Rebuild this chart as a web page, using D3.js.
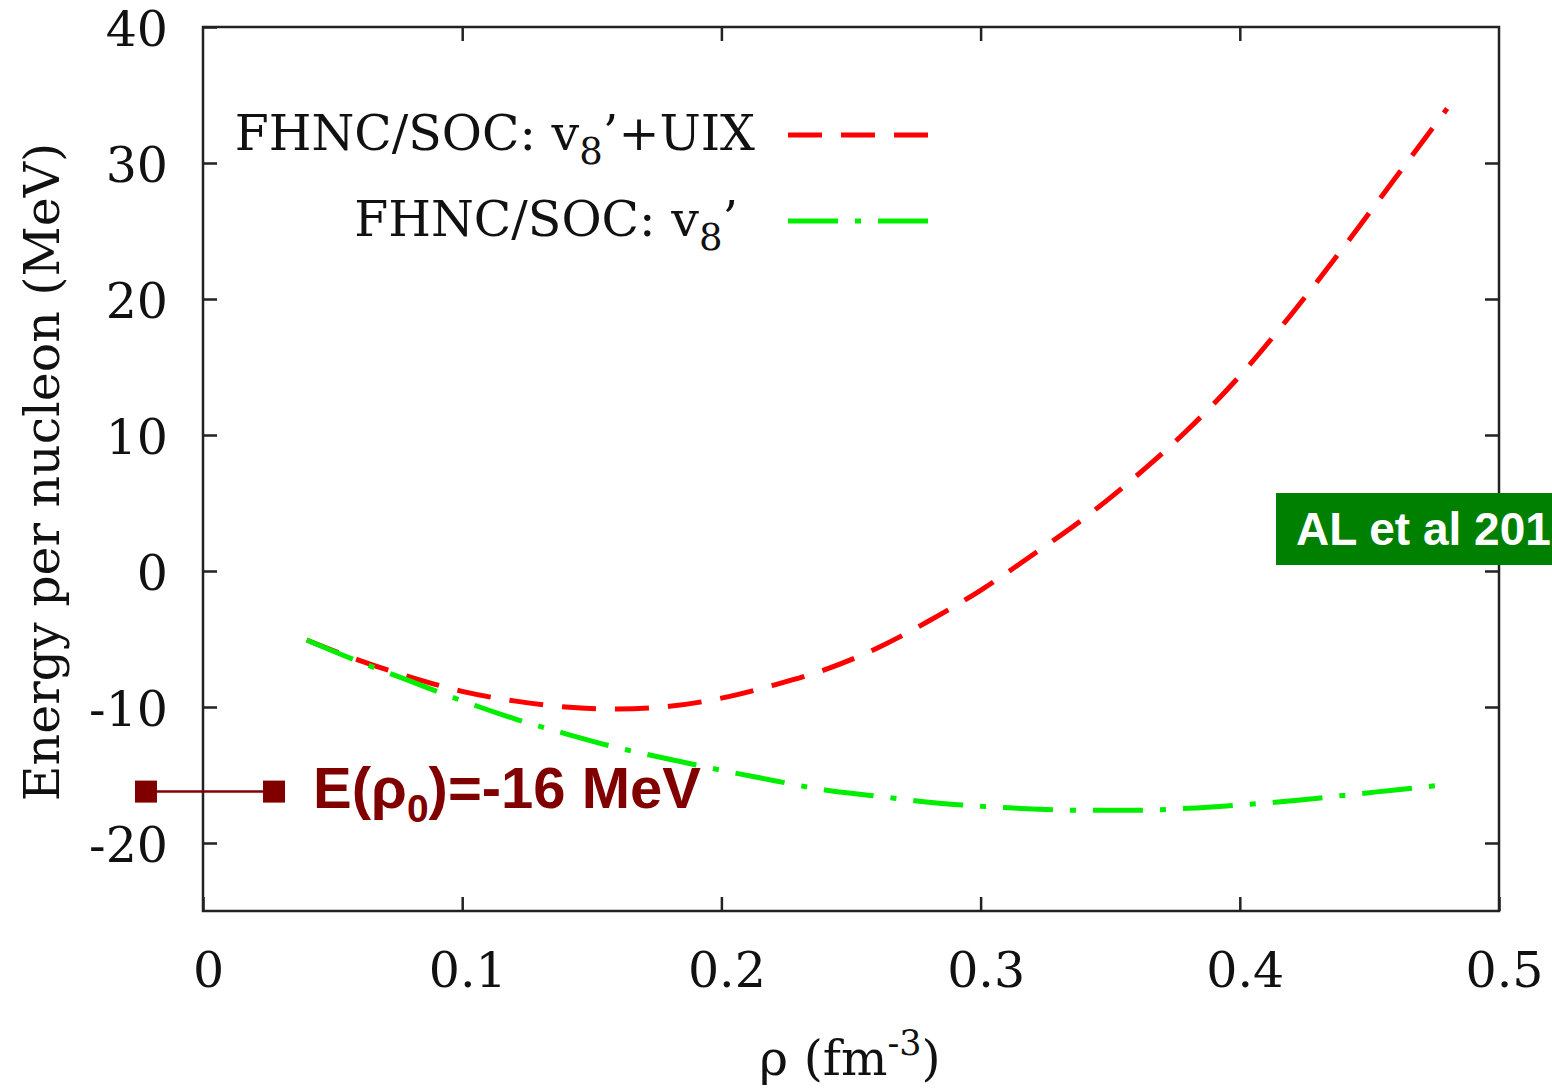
<!DOCTYPE html>
<html>
<head>
<meta charset="utf-8">
<script src="https://cdn.jsdelivr.net/npm/d3@7"></script>
<style>
  html, body { margin: 0; padding: 0; background: #fff; overflow: hidden; }
  svg { display: block; }
</style>
</head>
<body>
<svg id="chart" width="1552" height="1089"></svg>
<script>
// Density grid (fm^-3)
const rho = [0.04, 0.06, 0.08, 0.10, 0.12, 0.14, 0.16, 0.18, 0.20, 0.22, 0.24, 0.26,
             0.28, 0.30, 0.32, 0.34, 0.36, 0.38, 0.40, 0.42, 0.44, 0.46, 0.48];

// Energy per nucleon (MeV), FHNC/SOC with v8' + UIX three-body force
const energyV8UIX = [-5.07, -6.55, -7.8, -8.85, -9.55, -10.0, -10.15, -9.95, -9.35, -8.4,
                     -7.25, -5.68, -3.68, -1.42, 1.18, 3.89, 6.97, 10.4, 14.35, 18.9,
                     23.8, 28.9, 34.0];

// Energy per nucleon (MeV), FHNC/SOC with v8' only
const energyV8 = [-5.07, -6.65, -8.1, -9.55, -10.85, -11.97, -13.0, -13.84, -14.65, -15.4,
                  -16.1, -16.55, -17.0, -17.3, -17.5, -17.6, -17.6, -17.45, -17.2, -16.9,
                  -16.5, -16.1, -15.7];

const xTicks = [0, 0.1, 0.2, 0.3, 0.4, 0.5];
const xTickLabels = ["0", "0.1", "0.2", "0.3", "0.4", "0.5"];
const yTicks = [-20, -10, 0, 10, 20, 30, 40];
const yTickLabels = ["-20", "-10", "0", "10", "20", "30", "40"];

// Saturation energy marker
const saturationEnergy = -16;
const markerRho = [-0.022, 0.0274];

const svg = d3.select("#chart");
const serif = "'DejaVu Serif', serif";
const sans = "'Liberation Sans', Arial, sans-serif";
const fontSize = 49;

const x = d3.scaleLinear().domain([0, 0.5]).range([203, 1499]);
const y = d3.scaleLinear().domain([-25, 40]).range([911, 27]);

const tickLen = 14;

// Bottom axis with labels, ticks pointing inward
const gx = svg.append("g").attr("transform", `translate(0,${y(-25)})`)
  .call(d3.axisBottom(x).tickValues(xTicks)
    .tickFormat((d, i) => xTickLabels[i])
    .tickSizeInner(-tickLen).tickSizeOuter(0).tickPadding(41));
// Left axis with labels
const gy = svg.append("g").attr("transform", `translate(${x(0)},0)`)
  .call(d3.axisLeft(y).tickValues(yTicks)
    .tickFormat((d, i) => yTickLabels[i])
    .tickSizeInner(-tickLen).tickSizeOuter(0).tickPadding(35));
// Mirrored ticks on top and right
const gt = svg.append("g").attr("transform", `translate(0,${y(40)})`)
  .call(d3.axisTop(x).tickValues(xTicks.slice(1, -1)).tickFormat("")
    .tickSizeInner(-tickLen).tickSizeOuter(0));
const gr = svg.append("g").attr("transform", `translate(${x(0.5)},0)`)
  .call(d3.axisRight(y).tickValues(yTicks.slice(0, -1)).tickFormat("")
    .tickSizeInner(-tickLen).tickSizeOuter(0));

[gx, gy, gt, gr].forEach(g => {
  g.select(".domain").remove();
  g.selectAll(".tick line").attr("stroke", "#222").attr("stroke-width", 2.5);
  g.selectAll(".tick text").attr("fill", "#111")
    .style("font-family", serif).style("font-size", fontSize + "px");
});
gx.selectAll(".tick text").attr("dx", 5);
gy.selectAll(".tick text").attr("y", 2.5);

// Plot frame
svg.append("rect")
  .attr("x", x(0)).attr("y", y(40))
  .attr("width", x(0.5) - x(0)).attr("height", y(-25) - y(40))
  .attr("fill", "none").attr("stroke", "#222").attr("stroke-width", 2.5);

// Axis titles
svg.append("text")
  .attr("transform", `translate(59,${(y(40) + y(-25)) / 2 + 3}) rotate(-90)`)
  .attr("text-anchor", "middle")
  .style("font-family", serif).style("font-size", fontSize + "px").attr("fill", "#111")
  .text("Energy per nucleon (MeV)");

const xt = svg.append("text")
  .attr("x", 850).attr("y", 1075)
  .attr("text-anchor", "middle")
  .style("font-family", serif).style("font-size", fontSize + "px").attr("fill", "#111");
xt.append("tspan").text("ρ (fm");
xt.append("tspan").attr("dy", -20).style("font-size", "35px").text("-3");
xt.append("tspan").attr("dy", 20).text(")");

// Curves
const seriesDefs = [
  { values: energyV8UIX, color: "#ff0000", dash: "34,19" },
  { values: energyV8, color: "#00ee00", dash: "50,17,6,17" }
];
const line = d3.line().x(d => x(d[0])).y(d => y(d[1])).curve(d3.curveMonotoneX);

seriesDefs.forEach(s => {
  svg.append("path")
    .datum(rho.map((r, i) => [r, s.values[i]]))
    .attr("d", line)
    .attr("fill", "none")
    .attr("stroke", s.color)
    .attr("stroke-width", 5)
    .attr("stroke-dasharray", s.dash);
});

// Legend
const legendRows = [
  { main: "FHNC/SOC: v", sub: "8", tail: "’+UIX", y: 150, endX: 755, color: "#ff0000", dash: "34,19", x2: 930 },
  { main: "FHNC/SOC: v", sub: "8", tail: "’", y: 236, endX: 738, color: "#00ee00", dash: "50,17,6,17", x2: 940 }
];
legendRows.forEach(r => {
  const t = svg.append("text")
    .attr("x", r.endX).attr("y", r.y)
    .attr("text-anchor", "end")
    .style("font-family", serif).style("font-size", fontSize + "px").attr("fill", "#111");
  t.append("tspan").text(r.main);
  t.append("tspan").attr("dy", 14).style("font-size", "37px").text(r.sub);
  t.append("tspan").attr("dy", -14).text(r.tail);
  svg.append("line")
    .attr("x1", 788).attr("x2", r.x2)
    .attr("y1", r.y - 15).attr("y2", r.y - 15)
    .attr("stroke", r.color).attr("stroke-width", 5)
    .attr("stroke-dasharray", r.dash);
});

// Saturation marker: line with square ends at E = -16 MeV
const satColor = "#800000";
const ySat = y(saturationEnergy) + 3;
svg.append("line")
  .attr("x1", x(markerRho[0])).attr("x2", x(markerRho[1]))
  .attr("y1", ySat).attr("y2", ySat)
  .attr("stroke", satColor).attr("stroke-width", 2.5);
svg.selectAll("rect.sat").data(markerRho).join("rect")
  .attr("class", "sat")
  .attr("x", d => x(d) - 11).attr("y", ySat - 11)
  .attr("width", 22).attr("height", 22)
  .attr("fill", satColor);

const satText = svg.append("text")
  .attr("x", 313).attr("y", 808)
  .style("font-family", sans).style("font-weight", "bold").style("font-size", "58px")
  .attr("fill", satColor);
satText.append("tspan").text("E(ρ");
satText.append("tspan").attr("dy", 14).style("font-size", "39px").text("0");
satText.append("tspan").attr("dy", -14).text(")=-16 MeV");

// Reference tag
svg.append("rect")
  .attr("x", 1276).attr("y", 493).attr("width", 300).attr("height", 72)
  .attr("fill", "#008000");
svg.append("text")
  .attr("x", 1296).attr("y", 545)
  .style("font-family", sans).style("font-weight", "bold").style("font-size", "46px")
  .attr("fill", "#ffffff")
  .text("AL et al 201");
</script>
</body>
</html>
